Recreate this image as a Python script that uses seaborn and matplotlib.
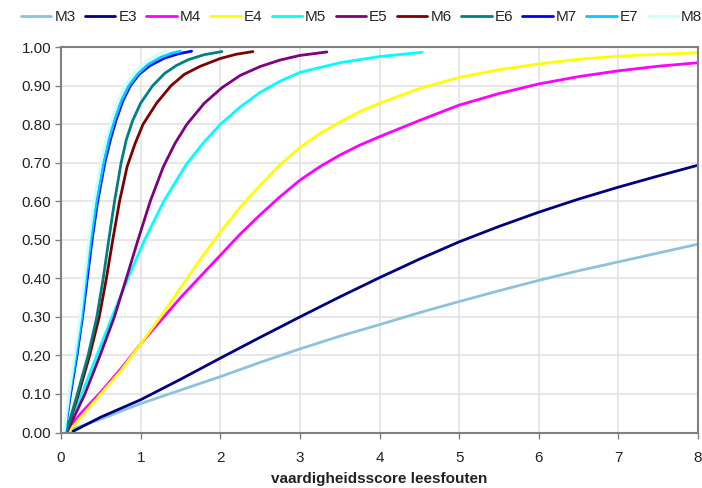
import matplotlib
matplotlib.use("Agg")
import matplotlib.pyplot as plt
import seaborn as sns
import pandas as pd

series = ["M3", "E3", "M4", "E4", "M5", "E5", "M6", "E6", "M7", "E7", "M8"]
colors = ["#8CC3D9", "#000080", "#FF00FF", "#FFFF00", "#00FFFF", "#800080",
          "#800000", "#008080", "#0000FF", "#00CCFF", "#CCFFFF"]

m3_x = [0.07, 0.5, 1, 1.5, 2, 2.5, 3, 3.5, 4, 4.5, 5, 5.5, 6, 6.5, 7, 7.5, 8]
m3_y = [0.003, 0.035, 0.075, 0.11, 0.145, 0.182, 0.217, 0.25, 0.28, 0.311, 0.34, 0.368, 0.395, 0.42, 0.443, 0.466, 0.489]
e3_x = [0.15, 0.5, 1, 1.5, 2, 2.5, 3, 3.5, 4, 4.5, 5, 5.5, 6, 6.5, 7, 7.5, 8]
e3_y = [0.003, 0.04, 0.085, 0.138, 0.193, 0.247, 0.30, 0.352, 0.402, 0.45, 0.495, 0.535, 0.572, 0.606, 0.637, 0.666, 0.694]
m4_x = [0.07, 0.25, 0.5, 0.75, 1, 1.25, 1.5, 1.75, 2, 2.25, 2.5, 2.75, 3, 3.25, 3.5, 3.75, 4,
        4.5, 5, 5.5, 6, 6.5, 7, 7.5, 8]
m4_y = [0.003, 0.05, 0.105, 0.165, 0.23, 0.29, 0.35, 0.405, 0.46, 0.515, 0.565, 0.612, 0.655, 0.69, 0.72, 0.746, 0.768,
        0.81, 0.85, 0.88, 0.905, 0.924, 0.939, 0.951, 0.96]
e4_x = [0.1, 0.25, 0.5, 0.75, 1, 1.25, 1.5, 1.75, 2, 2.25, 2.5, 2.75, 3, 3.25, 3.5, 3.75, 4,
        4.5, 5, 5.5, 6, 6.5, 7, 7.5, 8]
e4_y = [0.003, 0.04, 0.10, 0.16, 0.23, 0.30, 0.375, 0.45, 0.52, 0.585, 0.642, 0.695, 0.74, 0.776, 0.806, 0.833, 0.855,
        0.893, 0.922, 0.942, 0.957, 0.969, 0.977, 0.982, 0.986]
m5_x = [0.05, 0.26, 0.45, 0.64, 0.84, 1.05, 1.29, 1.57, 1.78, 2, 2.25, 2.5, 2.75, 3, 3.5, 4, 4.53]
m5_y = [0.003, 0.1, 0.2, 0.3, 0.4, 0.5, 0.6, 0.695, 0.75, 0.8, 0.845, 0.883, 0.912, 0.935, 0.96, 0.976, 0.987]
e5_x = [0.08, 0.3, 0.49, 0.67, 0.82, 0.967, 1.12, 1.285, 1.43, 1.58, 1.8, 2.02, 2.25, 2.5, 2.75, 3, 3.34]
e5_y = [0.003, 0.1, 0.2, 0.3, 0.4, 0.5, 0.6, 0.69, 0.75, 0.8, 0.855, 0.895, 0.927, 0.95, 0.967, 0.979, 0.988]
m6_x = [0.07, 0.22, 0.36, 0.48, 0.57, 0.65, 0.735, 0.83, 0.93, 1.03, 1.2, 1.38, 1.55, 1.75, 2, 2.2, 2.41]
m6_y = [0.003, 0.1, 0.2, 0.3, 0.4, 0.5, 0.6, 0.69, 0.75, 0.8, 0.855, 0.9, 0.93, 0.951, 0.971, 0.982, 0.989]
e6_x = [0.07, 0.205, 0.34, 0.45, 0.53, 0.6, 0.672, 0.755, 0.82, 0.9, 1.0, 1.15, 1.3, 1.45, 1.6, 1.8, 2.02]
e6_y = [0.003, 0.1, 0.2, 0.3, 0.4, 0.5, 0.6, 0.7, 0.76, 0.81, 0.855, 0.9, 0.932, 0.953, 0.968, 0.981, 0.989]
m7_x = [0.05, 0.12, 0.2, 0.27, 0.33, 0.39, 0.46, 0.55, 0.62, 0.69, 0.775, 0.87, 0.98, 1.12, 1.3, 1.47, 1.64]
m7_y = [0.003, 0.1, 0.2, 0.3, 0.4, 0.5, 0.6, 0.7, 0.76, 0.81, 0.86, 0.9, 0.93, 0.953, 0.972, 0.983, 0.99]
e7_x = [0.05, 0.11, 0.19, 0.26, 0.315, 0.375, 0.445, 0.535, 0.6, 0.67, 0.755, 0.85, 0.96, 1.09, 1.25, 1.38, 1.5]
e7_y = [0.003, 0.1, 0.2, 0.3, 0.4, 0.5, 0.6, 0.7, 0.76, 0.81, 0.86, 0.9, 0.93, 0.955, 0.974, 0.984, 0.99]
m8_x = [0.04, 0.1, 0.17, 0.24, 0.295, 0.35, 0.415, 0.5, 0.565, 0.635, 0.715, 0.8, 0.9, 1.02, 1.15, 1.24, 1.32]
m8_y = [0.003, 0.1, 0.2, 0.3, 0.4, 0.5, 0.6, 0.7, 0.76, 0.81, 0.86, 0.9, 0.93, 0.955, 0.974, 0.984, 0.99]

xs = [m3_x, e3_x, m4_x, e4_x, m5_x, e5_x, m6_x, e6_x, m7_x, e7_x, m8_x]
ys = [m3_y, e3_y, m4_y, e4_y, m5_y, e5_y, m6_y, e6_y, m7_y, e7_y, m8_y]

x_ticks = [0, 1, 2, 3, 4, 5, 6, 7, 8]
y_ticks = [0.0, 0.1, 0.2, 0.3, 0.4, 0.5, 0.6, 0.7, 0.8, 0.9, 1.0]
x_label = "vaardigheidsscore leesfouten"

rows = []
for name, xv, yv in zip(series, xs, ys):
    for a, b in zip(xv, yv):
        rows.append({"serie": name, "x": a, "y": b})
df = pd.DataFrame(rows)

sns.set_theme(style="white")
plt.rcParams["font.family"] = ["Liberation Sans", "DejaVu Sans"]
plt.rcParams["lines.solid_joinstyle"] = "round"
plt.rcParams["lines.solid_capstyle"] = "round"

fig = plt.figure(figsize=(7.02, 4.88), dpi=100)
ax = fig.add_axes([0.0869, 0.1137, 0.9074, 0.7893])

sns.lineplot(data=df, x="x", y="y", hue="serie", hue_order=series,
             palette=dict(zip(series, colors)), estimator=None, sort=True,
             linewidth=2.0, ax=ax, legend=True)

ax.set_xlim(0, 8)
ax.set_ylim(0, 1.0)
ax.set_xticks(x_ticks)
ax.set_yticks(y_ticks)
ax.set_xticklabels([str(t) for t in x_ticks], fontsize=11, color="#222222")
ax.set_yticklabels([f"{t:.2f}" for t in y_ticks], fontsize=11, color="#222222")
ax.set_xlabel(x_label, fontsize=11, fontweight="bold", color="#222222", labelpad=5)
ax.set_ylabel("")
ax.grid(True, color="#E3E3E3", linewidth=1.2)
ax.set_axisbelow(True)
for s in ax.spines.values():
    s.set_color("#808080")
    s.set_linewidth(1.5)
ax.tick_params(axis="both", which="major", length=4, width=1, color="#808080",
               direction="out", bottom=True, left=True, pad=3)
ax.tick_params(axis="x", pad=9.5)

handles, labels = ax.get_legend_handles_labels()
ax.get_legend().remove()
fig.legend(handles, labels, loc="center", bbox_to_anchor=(0.515, 0.965), ncol=11,
           frameon=False, fontsize=11, handlelength=2.0, handletextpad=0.2,
           columnspacing=0.6, borderaxespad=0)

fig.savefig("out.png", dpi=100)
